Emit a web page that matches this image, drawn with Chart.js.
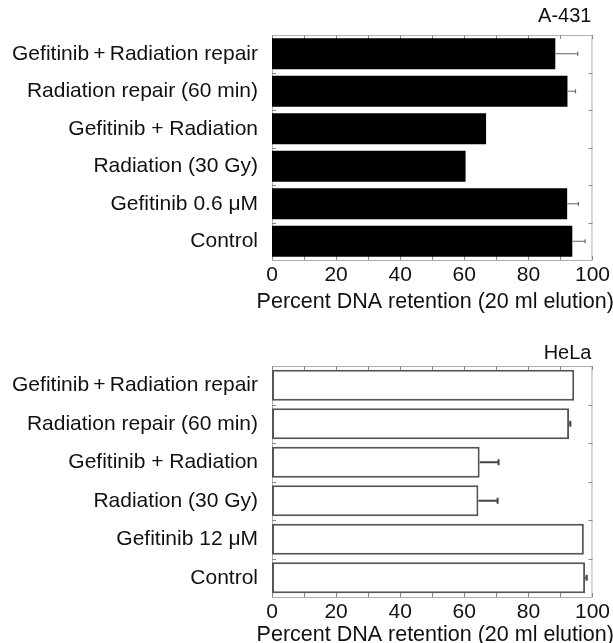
<!DOCTYPE html>
<html>
<head>
<meta charset="utf-8">
<script src="https://cdn.jsdelivr.net/npm/chart.js@4.4.0/dist/chart.umd.min.js"></script>
<style>
  html, body { margin: 0; padding: 0; background: #fff; overflow: hidden; }
  #wrap { position: relative; width: 613px; height: 643px; overflow: hidden; }
  canvas { position: absolute; left: 0; }
  #a431 { top: 0; }
  #hela { top: 320px; }
</style>
</head>
<body>
<div id="wrap">
  <canvas id="a431" width="613" height="320"></canvas>
  <canvas id="hela" width="613" height="335"></canvas>
</div>
<script>
// Werte (Prozent DNA-Retention)
const a431Labels = ["Gefitinib\u2009+\u2009Radiation repair", "Radiation repair (60 min)", "Gefitinib + Radiation", "Radiation (30 Gy)", "Gefitinib 0.6 \u03bcM", "Control"];
const a431Values = [88.4, 92.2, 66.8, 60.4, 92.1, 93.7];
const a431Errors = [7.0, 2.5, 0, 0, 3.5, 4.0];

const helaLabels = ["Gefitinib\u2009+\u2009Radiation repair", "Radiation repair (60 min)", "Gefitinib + Radiation", "Radiation (30 Gy)", "Gefitinib 12 \u03bcM", "Control"];
const helaValues = [94.3, 92.7, 64.8, 64.4, 97.3, 97.7];
const helaErrors = [0, 0.4, 5.9, 6.0, 0, 0.5];

const xTitle = "Percent DNA retention (20 ml elution)";

const FONT = "'Liberation Sans', Arial, Helvetica, sans-serif";

// Rahmen, Teilstriche, Fehlerbalken, Achsentitel und Zelllinien-Name
const panelPlugin = {
  id: "panel",
  beforeDatasetsDraw(chart, args, opts) {
    const { ctx, chartArea: a, scales: { x, y } } = chart;
    ctx.save();
    ctx.strokeStyle = "#b0b0b0";
    ctx.lineWidth = 1;
    ctx.strokeRect(a.left + 0.5, a.top + 0.5, a.right - a.left - 1, a.bottom - a.top);
    ctx.strokeStyle = "#888";
    ctx.beginPath();
    x.ticks.forEach((t) => {
      const px = Math.round(x.getPixelForValue(t.value)) + 0.5;
      ctx.moveTo(px, a.top); ctx.lineTo(px, a.top + 4);
      ctx.moveTo(px, a.bottom); ctx.lineTo(px, a.bottom - 4);
    });
    for (let i = 1; i < y.ticks.length; i++) {
      const py = Math.round((y.getPixelForValue(i - 1) + y.getPixelForValue(i)) / 2) + 0.5;
      ctx.moveTo(a.right, py); ctx.lineTo(a.right - 4, py);
      ctx.moveTo(a.left, py); ctx.lineTo(a.left + 4, py);
    }
    ctx.stroke();
    ctx.restore();
  },
  afterDatasetsDraw(chart, args, opts) {
    const { ctx, chartArea: a, scales: { x, y } } = chart;
    const ds = chart.data.datasets[0];
    ctx.save();
    ctx.strokeStyle = opts.errColor;
    ctx.lineWidth = opts.errWidth;
    ds.errors.forEach((e, i) => {
      if (!e) return;
      const x0 = x.getPixelForValue(ds.data[i]);
      const x1 = x.getPixelForValue(ds.data[i] + e);
      const py = y.getPixelForValue(i);
      ctx.beginPath();
      ctx.moveTo(x0, py); ctx.lineTo(x1, py);
      ctx.moveTo(x1, py - opts.cap); ctx.lineTo(x1, py + opts.cap);
      ctx.stroke();
    });
    ctx.fillStyle = "#111";
    ctx.font = "20px " + FONT;
    ctx.textAlign = "right";
    ctx.textBaseline = "alphabetic";
    ctx.fillText(opts.name, a.right - 1, a.top - opts.nameGap);
    ctx.font = "21.5px " + FONT;
    ctx.textAlign = "center";
    ctx.textBaseline = "middle";
    ctx.fillText(xTitle, (a.left + a.right) / 2 + 3, a.bottom + opts.titleGap);
    ctx.restore();
  },
};

function makeChart(id, labels, values, errors, style) {
  return new Chart(document.getElementById(id), {
    type: "bar",
    data: {
      labels: labels,
      datasets: [{
        data: values,
        errors: errors,
        backgroundColor: style.fill,
        borderColor: style.border,
        borderWidth: style.borderWidth,
        borderSkipped: false,
        categoryPercentage: 1,
        barPercentage: style.barPct,
      }],
    },
    options: {
      indexAxis: "y",
      responsive: false,
      animation: false,
      devicePixelRatio: 1,
      layout: { padding: { left: 0, right: 20, top: style.top, bottom: 0 } },
      plugins: {
        legend: { display: false },
        tooltip: { enabled: false },
        panel: style.panel,
      },
      scales: {
        x: {
          min: 0,
          max: 100,
          grid: { display: false, drawTicks: false },
          border: { display: false },
          ticks: {
            stepSize: 10,
            autoSkip: false,
            maxRotation: 0,
            padding: 3,
            color: "#111",
            font: { family: FONT, size: 21 },
            callback: (v) => (v % 20 === 0 ? v : ""),
          },
          afterFit: (s) => { s.height = style.axisH; },
        },
        y: {
          grid: { display: false, drawTicks: false },
          border: { display: false },
          ticks: {
            padding: 14,
            color: "#111",
            font: { family: FONT, size: 21 },
          },
          afterFit: (s) => { s.width = 272; },
        },
      },
    },
    plugins: [panelPlugin],
  });
}

makeChart("a431", a431Labels, a431Values, a431Errors, {
  fill: "#000", border: "#000", borderWidth: 0, barPct: 0.83,
  top: 35, axisH: 60,
  panel: { name: "A-431", nameGap: 13, titleGap: 42, errColor: "#666", errWidth: 1.2, cap: 2 },
});

makeChart("hela", helaLabels, helaValues, helaErrors, {
  fill: "#fff", border: "#555", borderWidth: 2, barPct: 0.81,
  top: 46, axisH: 58,
  panel: { name: "HeLa", nameGap: 7, titleGap: 38, errColor: "#444", errWidth: 2, cap: 3 },
});
</script>
</body>
</html>
